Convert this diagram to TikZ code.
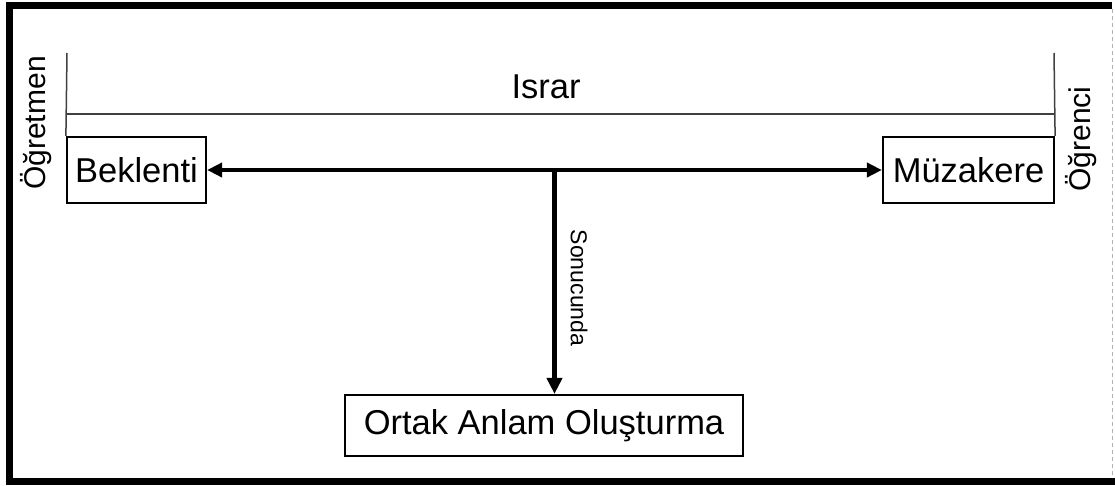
\documentclass[tikz,border=0pt]{standalone}
\usepackage{fontspec}
\setmainfont{Liberation Sans}
\usetikzlibrary{arrows.meta}
\begin{document}
\begin{tikzpicture}[x=1pt,y=-1pt,
  box/.style={draw=black,line width=2.2pt,inner sep=0pt,font=\fontsize{34.5}{40}\selectfont},
  guide/.style={draw=black!75,line width=1.5pt},
  bigtext/.style={font=\fontsize{34.5}{40}\selectfont},
  sidetext/.style={font=\fontsize{30}{36}\selectfont,inner sep=0pt},
  flow/.style={line width=4.5pt,{Triangle[length=15pt,width=14pt]}-{Triangle[length=15pt,width=14pt]}},
  result/.style={line width=4.5pt,-{Triangle[length=16pt,width=15pt]}}
]
\useasboundingbox (0,0) rectangle (1115,485);

% outer frame
\draw[line width=7pt,line join=miter] (1112,5) -- (9,5) -- (9,481.5) -- (1115,481.5);
\draw[black!30,line width=1pt,dash pattern=on 4pt off 3pt] (1112,9) -- (1112,478);

% boxes
\node[box,minimum width=139pt,minimum height=66pt] (bek) at (136.5,170) {Beklenti};
\node[box,minimum width=171pt,minimum height=66pt] (muz) at (968.5,170) {Müzakere};
\node[box,minimum width=398pt,minimum height=61pt] (ort) at (544,425.5) {Ortak Anlam Oluşturma};

% persistence bracket
\coordinate (lt) at (67,53);
\coordinate (rt) at (1054,53);
\coordinate (ll) at (67,114);
\coordinate (rl) at (1054,114);
\draw[guide] (lt) -- (bek.north west);
\draw[guide] (rt) -- (muz.north east);
\draw[guide] (ll) -- (rl);
\node[bigtext,anchor=base] (israr) at (546,98) {Israr};

% side labels
\node[sidetext,rotate=90,anchor=base] (ogretmen) at (45,123) {Öğretmen};
\node[sidetext,rotate=90,anchor=base] (ogrenci) at (1090,139) {Öğrenci};

% arrows
\draw[flow] (bek.east) -- (muz.west);
\coordinate (j) at (554.5,170);
\draw[result] (j) -- (j |- ort.north);
\node[rotate=-90,font=\fontsize{23}{27}\selectfont] (son) at (579,288) {Sonucunda};
\end{tikzpicture}
\end{document}
